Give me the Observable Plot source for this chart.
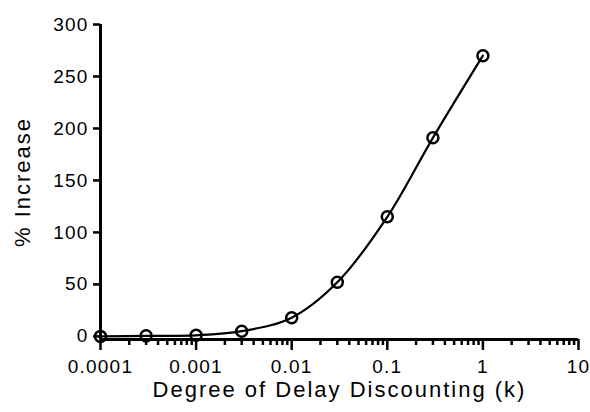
<!DOCTYPE html>
<html>
<head>
<meta charset="utf-8">
<script src="https://cdn.jsdelivr.net/npm/d3@7"></script>
<script src="https://cdn.jsdelivr.net/npm/@observablehq/plot@0.6"></script>
<style>
  html, body { margin: 0; padding: 0; background: #fff; }
  #chart svg { display: block; }
</style>
</head>
<body>
<div id="chart"></div>
<script>
// Data
const kValues = [0.0001, 0.0003, 0.001, 0.003, 0.01, 0.03, 0.1, 0.3, 1];
const pctIncrease = [0, 0.5, 1, 5, 18, 52, 115, 191, 270];

// Axis ticks & labels
const xTicks = [0.0001, 0.001, 0.01, 0.1, 1, 10];
const xTickLabels = ["0.0001", "0.001", "0.01", "0.1", "1", "10"];
const yTicks = [0, 50, 100, 150, 200, 250, 300];
const xLabel = "Degree of Delay Discounting (k)";
const yLabel = "% Increase";

const data = kValues.map((k, i) => ({k, v: pctIncrease[i]}));
const minorTicks = [];
for (let e = -4; e < 1; e++) for (let m = 2; m <= 9; m++) minorTicks.push(m * Math.pow(10, e));
const xLabelOf = (d) => xTickLabels[xTicks.findIndex((t) => Math.abs(t - d) < t * 1e-6)] ?? "";

const font = "'Liberation Sans', Arial, sans-serif";

const chart = Plot.plot({
  width: 590,
  height: 412,
  marginLeft: 100,
  marginRight: 12,
  marginTop: 24,
  marginBottom: 73,
  style: {fontFamily: font, color: "#000", background: "#fff"},
  x: {type: "log", domain: [0.0001, 10]},
  y: {domain: [-3, 300]},
  marks: [
    Plot.ruleY([-3], {x1: 0.0001, x2: 10, strokeWidth: 3}),
    Plot.ruleX([0.0001], {y1: -3, y2: 300, strokeWidth: 3}),
    Plot.axisX(minorTicks, {tickSize: 6, strokeWidth: 2.5, tickFormat: () => "", label: null}),
    Plot.axisX(xTicks, {tickSize: 11, strokeWidth: 2.5, tickPadding: 9, tickFormat: xLabelOf, fontSize: 19, label: null}),
    Plot.axisY(yTicks, {tickSize: 7, strokeWidth: 2.5, tickPadding: 5, fontSize: 19, label: null}),
    Plot.line(data, {x: "k", y: "v", curve: "catmull-rom", strokeWidth: 2.2, stroke: "#000"}),
    Plot.dot(data, {x: "k", y: "v", r: 5.5, stroke: "#000", strokeWidth: 2.5, fill: "none"}),
    Plot.text([xLabel], {frameAnchor: "bottom", lineAnchor: "middle", textAnchor: "middle", dy: 50, fontSize: 22, fill: "#000"}),
    Plot.text([yLabel], {frameAnchor: "left", lineAnchor: "middle", textAnchor: "middle", rotate: -90, dx: -78, fontSize: 22, fill: "#000"})
  ]
});
d3.select(chart).selectAll('g[aria-label$="tick label"]').style("letter-spacing", "1.2px");
d3.select(chart).selectAll('g[aria-label="text"]').style("letter-spacing", "2px");
document.getElementById("chart").appendChild(chart);
</script>
</body>
</html>
